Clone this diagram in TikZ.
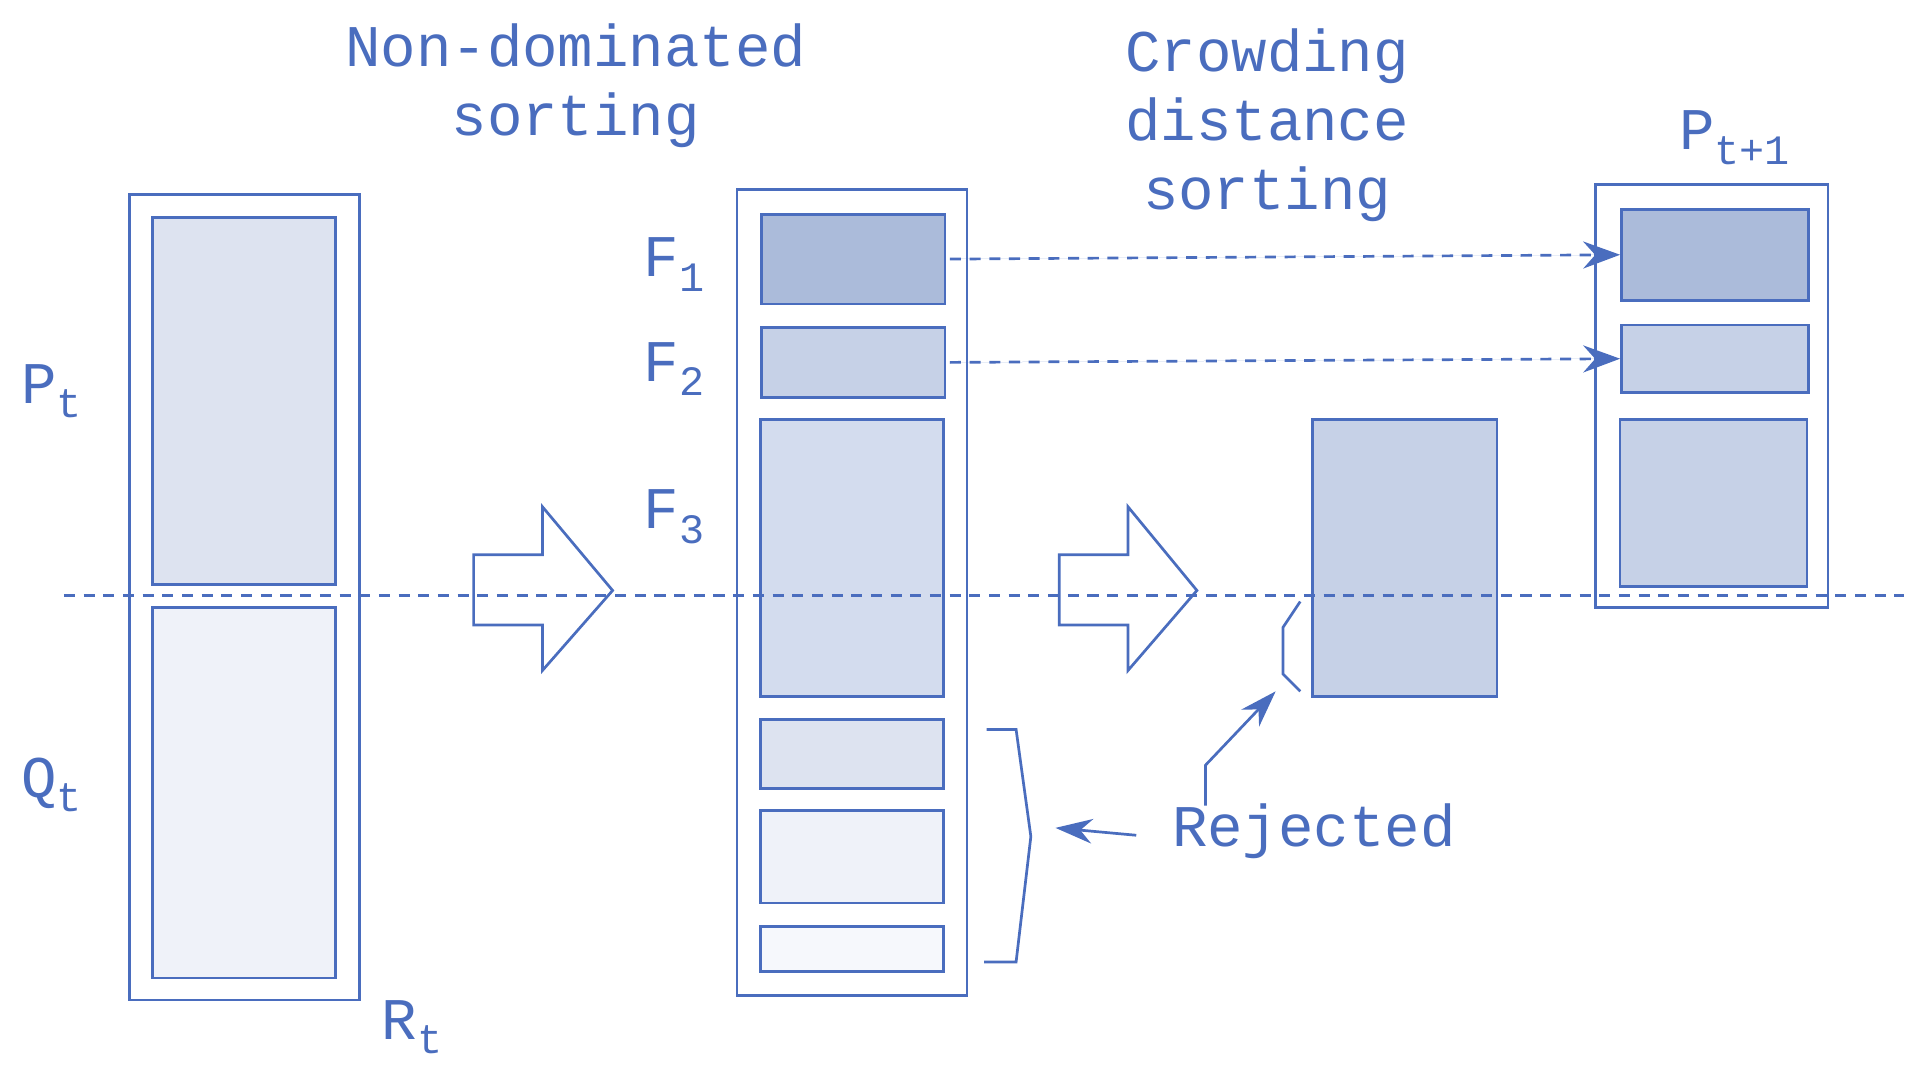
\documentclass[tikz,border=0pt]{standalone}
\usepackage{fontspec}
\setmainfont{Liberation Mono}
\usetikzlibrary{arrows.meta}
\definecolor{bl}{HTML}{4A6DBE}
\definecolor{fa}{HTML}{ABBBDA}
\definecolor{fb}{HTML}{C6D1E7}
\definecolor{fc}{HTML}{D3DCEE}
\definecolor{fd}{HTML}{DDE3F0}
\definecolor{fe}{HTML}{EFF2F9}
\definecolor{ff}{HTML}{F6F8FC}
\newcommand{\sbx}[1]{\raisebox{-12pt}{\fontsize{34}{34}\selectfont #1}}
\begin{document}
\begin{tikzpicture}[x=1pt,y=-1pt,line width=2.2pt,
  box/.style={draw=bl},
  lab/.style={text=bl,font=\fontsize{48}{56}\selectfont,inner sep=0pt,align=center},
  dsh/.style={draw=bl,dash pattern=on 9pt off 7pt},
  tip/.style={-{Stealth[length=30pt,width=22pt]}}]
\useasboundingbox (0,0) rectangle (1560,872);
% horizontal dashed line
\coordinate (hl) at (52,484); \coordinate (hr) at (1548,484);
% R_t column
\draw[box] (105,158) rectangle (292,813);
\draw[box,fill=fd] (124,177) rectangle (273,475);
\draw[box,fill=fe] (124,494) rectangle (273,795);
\node[lab] (pt) at (42,318) {P\sbx{t}};
\node[lab] (qt) at (42,638) {Q\sbx{t}};
\node[lab] (rt) at (335,835) {R\sbx{t}};
% titles
\node[lab] (t1) at (468,70) {Non-dominated\\sorting};
\node[lab] (t2) at (1030,102) {Crowding\\distance\\sorting};
% middle column
\draw[box] (599,154) rectangle (786,809);
\node[box,fill=fa,minimum width=149pt,minimum height=73pt,inner sep=0pt,anchor=north west] (f1) at (618,173) {};
\node[box,fill=fb,minimum width=149pt,minimum height=57pt,inner sep=0pt,anchor=north west] (f2) at (618,265) {};
\draw[box,fill=fc] (618,341) rectangle (767,566);
\draw[box,fill=fd] (618,585) rectangle (767,641);
\draw[box,fill=fe] (618,659) rectangle (767,734);
\draw[box,fill=ff] (618,753) rectangle (767,790);
\node[lab] (l1) at (548,215) {F\sbx{1}};
\node[lab] (l2) at (548,300) {F\sbx{2}};
\node[lab] (l3) at (548,420) {F\sbx{3}};
% right column
\draw[box,fill=white] (1297,150) rectangle (1486,494);
\node[box,fill=fa,minimum width=152pt,minimum height=74pt,inner sep=0pt,anchor=north west] (g1) at (1317,169) {};
\node[box,fill=fb,minimum width=152pt,minimum height=55pt,inner sep=0pt,anchor=north west] (g2) at (1317,263) {};
\draw[box,fill=fb] (1317,341) rectangle (1469,477);
\node[lab] (pt1) at (1410,112) {P\sbx{t+1}};
% rejected box
\draw[box,fill=fb] (1067,341) rectangle (1217,566);
\draw[dsh] (hl) -- (hr);
% hollow arrows
\draw[box] (385,451) -- (441,451) -- (441,412) -- (498,480) -- (441,545) -- (441,508) -- (385,508) -- cycle;
\draw[box] (861,451) -- (917,451) -- (917,412) -- (973,480) -- (917,545) -- (917,508) -- (861,508) -- cycle;
% dashed arrows
\draw[dsh,tip,fill=bl] ([xshift=3pt]f1.east) -- (g1.west);
\draw[dsh,tip,fill=bl] ([xshift=3pt]f2.east) -- (g2.west);
% brackets
\draw[bl] (1057,489) -- (1043,510) -- (1043,548) -- (1057,562);
\draw[bl] (802,593) -- (826,593) -- (838,680) -- (826,782) -- (800,782);
% rejected
\node[lab] (rej) at (1068,676) {Rejected};
\coordinate (a1) at (980,655);
\coordinate (a2) at (1037,562);
\draw[bl,-{Stealth[length=30pt,width=20pt]}] (a1) -- (980,622) -- (a2);
\draw[bl,-{Stealth[length=30pt,width=20pt]}] ([xshift=-28pt,yshift=-3pt]rej.west) -- (858,673);
\end{tikzpicture}
\end{document}
